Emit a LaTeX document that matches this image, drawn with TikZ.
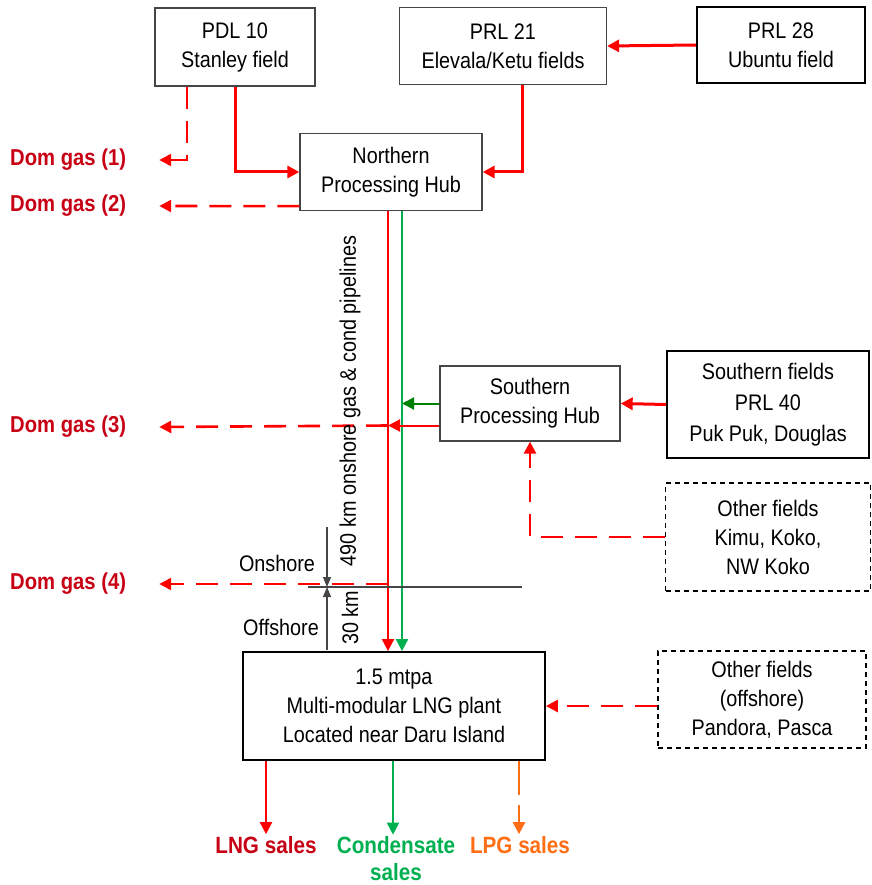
\documentclass[tikz,border=0pt]{standalone}
\usepackage{fontspec}
\setmainfont{Liberation Sans}[FakeStretch=0.88]
\usetikzlibrary{arrows.meta,positioning}
\definecolor{boxgray}{RGB}{70,70,70}
\definecolor{pipered}{RGB}{255,0,0}
\definecolor{domred}{RGB}{200,0,20}
\definecolor{condgreen}{RGB}{0,176,80}
\definecolor{hubgreen}{RGB}{0,128,0}
\definecolor{lpgorange}{RGB}{255,110,20}
\tikzset{
  fieldbox/.style={draw=boxgray, line width=1.3pt, align=center, inner sep=0pt,
    font=\fontsize{22.5}{29}\selectfont},
  mainbox/.style={fieldbox, draw=black, line width=1.8pt},
  otherbox/.style={fieldbox, draw=black, line width=1.5pt, dash pattern=on 5pt off 4pt},
  domlabel/.style={anchor=west, inner sep=2pt, text=domred, font=\fontsize{23}{24}\selectfont\bfseries},
  salelabel/.style={inner sep=2pt, align=center, font=\fontsize{23.5}{27}\selectfont\bfseries},
  plainlabel/.style={inner sep=0pt, font=\fontsize{22.5}{24}\selectfont},
  tip/.style={-{Triangle[length=12pt,width=12pt]}},
  feed/.style={tip, pipered, line width=3pt},
  gasdash/.style={tip, pipered, line width=2.6pt, dash pattern=on 22pt off 12pt},
  pipe/.style={tip, line width=2pt},
  dimarrow/.style={-{Triangle[length=10pt,width=8pt]}, draw=boxgray, line width=1.2pt}
}
\begin{document}
\begin{tikzpicture}[x=1pt, y=-1pt]
  \useasboundingbox (0,0) rectangle (871,885);

  % field and hub boxes
  \node[fieldbox, minimum width=160, minimum height=78] (pdl) at (235,47) {PDL 10\\Stanley field};
  \node[fieldbox, minimum width=207, minimum height=77] (prla) at (503,46) {PRL 21\\Elevala/Ketu fields};
  \node[mainbox, minimum width=168, minimum height=76] (prlb) at (781,45) {PRL 28\\Ubuntu field};
  \node[fieldbox, minimum width=182, minimum height=77] (nph) at (391,172) {Northern\\Processing Hub};
  \node[fieldbox, minimum width=180, minimum height=75] (sph) at (530,403.5) {Southern\\Processing Hub};
  \node[mainbox, minimum width=202, minimum height=107, font=\fontsize{22.5}{31}\selectfont] (sf) at (768,404.5)
    {Southern fields\\PRL 40\\Puk Puk, Douglas};
  \node[otherbox, minimum width=205, minimum height=108] (of) at (768,537)
    {Other fields\\Kimu, Koko,\\NW Koko};
  \node[otherbox, minimum width=208, minimum height=97] (off) at (762,699.5)
    {Other fields\\(offshore)\\Pandora, Pasca};
  \node[mainbox, minimum width=302, minimum height=108] (lng) at (394,706)
    {1.5 mtpa\\Multi-modular LNG plant\\Located near Daru Island};

  % domestic gas outlets
  \node[domlabel] (dga) at (8,160) {Dom gas (1)};
  \node[domlabel] (dgb) at (8,206) {Dom gas (2)};
  \node[domlabel] (dgc) at (8,427) {Dom gas (3)};
  \node[domlabel] (dgd) at (8,584) {Dom gas (4)};

  % sales
  \node[salelabel, text=domred] (lngs) at (266,845) {LNG sales};
  \node[salelabel, text=condgreen] (conds) at (396,859) {Condensate\\sales};
  \node[salelabel, text=lpgorange] (lpgs) at (520,845) {LPG sales};

  % northern feeds
  \draw[gasdash] ([xshift=-48]pdl.south) |- ([xshift=31]dga.east);
  \draw[feed] (pdl.south) |- (nph.west);
  \draw[feed] ([xshift=19]prla.south) |- (nph.east);
  \draw[feed] (prlb.west) -- (prla.east);
  \draw[gasdash] ([yshift=5]nph.south west) -- ([xshift=31]dgb.east);

  % trunk pipelines
  \coordinate (cr) at ([xshift=-3]nph.south);
  \coordinate (cg) at ([xshift=11]nph.south);
  \draw[pipe, pipered] (cr) -- (cr |- lng.north);
  \draw[pipe, condgreen] (cg) -- (cg |- lng.north);

  % southern hub
  \draw[feed] (sf.west) -- (sph.east);
  \draw[gasdash] (of.west) -| (sph.south);
  \draw[tip, hubgreen, line width=2pt] (sph.west) -- (sph.west -| cg);
  \draw[tip, pipered, line width=2pt] ([yshift=-22]sph.west) -- ([yshift=-22]sph.west -| cr);
  \draw[gasdash] ([yshift=-22]sph.west -| cr) -- ([xshift=31]dgc.east);

  % shore line and distances
  \coordinate (shw) at (308,587);
  \coordinate (she) at (522,587);
  \coordinate (ona) at (327,527);
  \coordinate (offa) at (327,650);
  \draw[boxgray, line width=1.2pt] (shw) -- (she);
  \draw[gasdash] ([yshift=3]cr |- shw) -- ([xshift=31]dgd.east);
  \draw[dimarrow] (ona) -- (ona |- shw);
  \draw[dimarrow] (offa) -- (offa |- shw);
  \node[plainlabel] (onl) at (277,563) {Onshore};
  \node[plainlabel] (offl) at (281,627) {Offshore};
  \node[plainlabel, rotate=90] (len) at (350,401) {490 km onshore gas \& cond pipelines};
  \node[plainlabel, rotate=90] (lenb) at (350,618) {30 km};

  % offshore feed
  \draw[gasdash] (off.west |- lng.east) -- (lng.east);

  % products
  \draw[tip, pipered, line width=2pt] ([xshift=-128]lng.south) -- (lngs.north);
  \draw[tip, condgreen, line width=2pt] ([xshift=-1]lng.south) -- ([xshift=-3]conds.north);
  \draw[tip, lpgorange, line width=2.6pt, dash pattern=on 34pt off 10pt] ([xshift=125]lng.south) -- ([xshift=-1]lpgs.north);
\end{tikzpicture}
\end{document}
